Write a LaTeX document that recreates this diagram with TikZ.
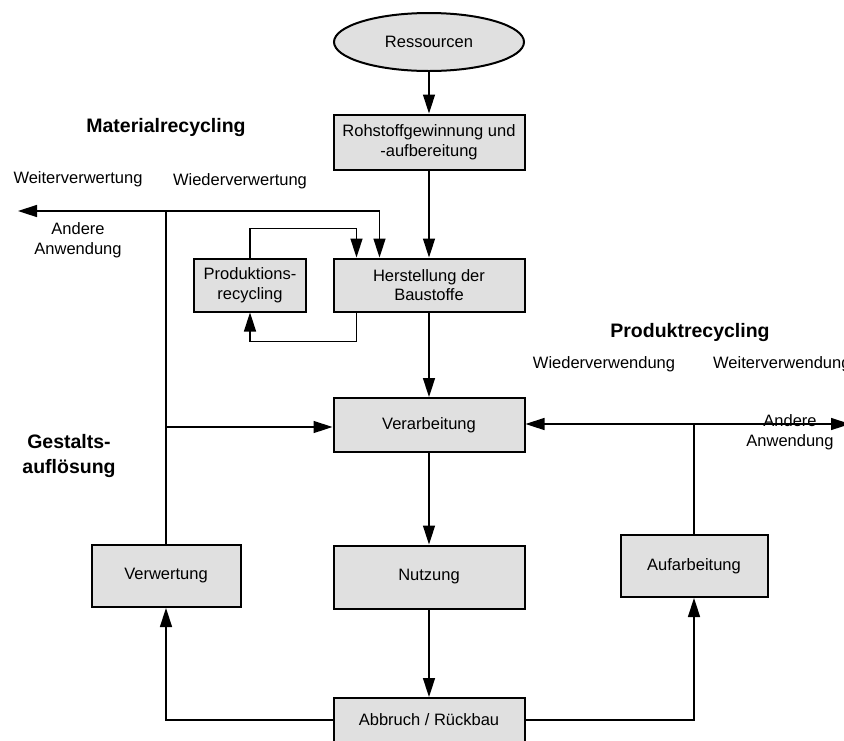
\documentclass[tikz,border=0pt]{standalone}
\usepackage{fontspec}
\setmainfont{Liberation Sans}
\usetikzlibrary{arrows.meta, positioning, shapes.geometric}

\begin{document}
\begin{tikzpicture}[x=1pt, y=-1pt, every node/.style={align=center},
    font=\fontsize{16.5}{19.5}\selectfont,
    box/.style={draw, line width=2pt, fill=black!12, rectangle, minimum width=191pt, minimum height=55pt, inner sep=2pt},
    ell/.style={draw, line width=2pt, fill=black!12, ellipse, minimum width=190pt, minimum height=58pt, inner sep=0pt},
    head/.style={font=\fontsize{19.5}{25}\selectfont\bfseries},
    line/.style={line width=1.5pt},
    arr/.style={line width=1.5pt, -{Triangle[length=19pt, width=12pt]}}]
   \useasboundingbox (0,0) rectangle (844,740);

   % Hauptkette
   \node[ell] (res) at (429,42) {Ressourcen};
   \node[box] (roh) at (429,142) {Rohstoffgewinnung und\\-aufbereitung};
   \node[box, minimum height=53pt] (her) at (429,285) {Herstellung der\\Baustoffe};
   \node[box, minimum width=112pt, minimum height=53pt] (prod) at (250,285) {Produktions-\\recycling};
   \node[box, minimum height=54pt] (vera) at (429,425) {Verarbeitung};
   \node[box, minimum height=63pt] (nut) at (429,577) {Nutzung};
   \node[box, minimum width=149pt, minimum height=62pt] (verw) at (166,576) {Verwertung};
   \node[box, minimum width=147pt, minimum height=62pt] (auf) at (694,566) {Aufarbeitung};
   \node[box, minimum height=44pt] (abb) at (429,720) {Abbruch / Rückbau};

   % Beschriftungen
   \node[head] (matrec) at (166,127) {Materialrecycling};
   \node[head] (prodrec) at (690,332) {Produktrecycling};
   \node[head] (gestalt) at (69,456) {Gestalts-\\auflösung};
   \node (weiterverw) at (78,179) {Weiterverwertung};
   \node (wiederverw) at (240,181) {Wiederverwertung};
   \node (andere1) at (78,240) {Andere\\Anwendung};
   \node (wiederverwend) at (604,364) {Wiederverwendung};
   \node[anchor=west, inner sep=0pt] (weiterverwend) at (713,364) {Weiterverwendung};
   \node (andere2) at (790,432) {Andere\\Anwendung};

   \coordinate (wv) at (18,211);
   \coordinate (wf) at (850,424);

   \draw[arr] (res) -- (roh);
   \draw[arr] (roh) -- (her);
   \draw[arr] (her) -- (vera);
   \draw[arr] (vera) -- (nut);
   \draw[arr] (nut) -- (abb);

   % Produktionsrecycling
   \draw[arr] (prod.north) -- ++(0,-29) -| ([xshift=24pt]her.north west);
   \draw[arr] ([xshift=24pt]her.south west) -- ++(0,29) -| (prod.south);

   % Materialrecycling
   \draw[line] (verw.north) -- (verw.north |- wv);
   \draw[arr] (verw.north |- wv) -- (wv);
   \draw[arr] (verw.north |- wv) -| ([xshift=47pt]her.north west);
   \draw[arr] ([yshift=-2pt]verw.north |- vera.west) -- ([yshift=-2pt]vera.west);

   % Produktrecycling
   \draw[line] (auf.north) -- (auf.north |- wf);
   \draw[arr] (auf.north |- wf) -- (vera.east |- wf);
   \draw[arr] (auf.north |- wf) -- (wf);

   \draw[arr] (abb.west) -| (verw.south);
   \draw[arr] (abb.east) -| (auf.south);
 \end{tikzpicture}
\end{document}
